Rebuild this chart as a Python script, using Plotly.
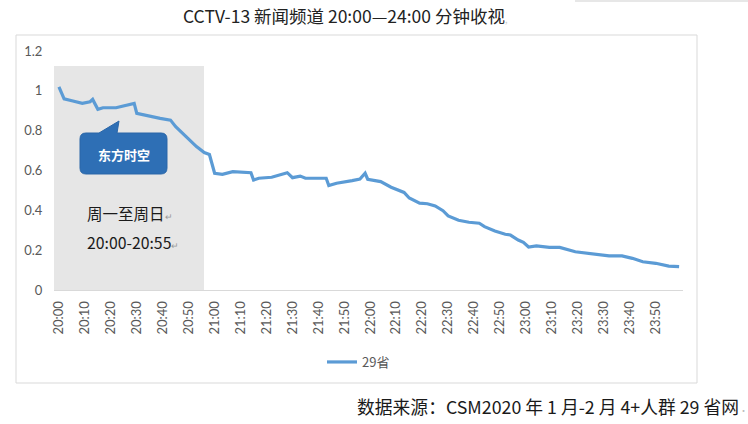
import plotly.graph_objects as go

# ---- data ----
minutes = [0, 2, 5, 9, 12, 13, 15, 17, 22, 27, 29, 30, 34, 39, 43, 45, 49, 53, 56, 58,
           60, 63, 67, 74, 75, 77, 82, 88, 90, 93, 95, 103, 104, 107, 113, 116, 118, 119,
           124, 128, 133, 135, 139, 142, 145, 148, 150, 154, 158, 162, 164, 168, 172, 174,
           177, 179, 181, 184, 189, 193, 199, 207, 212, 217, 221, 225, 230, 235, 239]
values = [1.02, 0.96, 0.95, 0.937, 0.945, 0.957, 0.907, 0.915, 0.915, 0.932, 0.937, 0.887,
          0.875, 0.862, 0.853, 0.82, 0.77, 0.72, 0.69, 0.68,
          0.586, 0.581, 0.594, 0.589, 0.552, 0.561, 0.566, 0.589, 0.564, 0.572, 0.561, 0.561,
          0.524, 0.536, 0.549, 0.557, 0.586, 0.556,
          0.544, 0.516, 0.49, 0.462, 0.436, 0.433, 0.422, 0.398, 0.372, 0.35, 0.34, 0.335,
          0.318, 0.296, 0.28, 0.276,
          0.251, 0.239, 0.216, 0.221, 0.214, 0.214, 0.192, 0.181, 0.171, 0.171, 0.159, 0.142,
          0.134, 0.12, 0.117]
tick_minutes = [0, 10, 20, 30, 40, 50, 60, 70, 80, 90, 100, 110, 120, 130, 140, 150,
                160, 170, 180, 190, 200, 210, 220, 230]
tick_labels = ["20:00", "20:10", "20:20", "20:30", "20:40", "20:50", "21:00", "21:10",
               "21:20", "21:30", "21:40", "21:50", "22:00", "22:10", "22:20", "22:30",
               "22:40", "22:50", "23:00", "23:10", "23:20", "23:30", "23:40", "23:50"]
y_ticks = [0, 0.2, 0.4, 0.6, 0.8, 1, 1.2]
y_tick_labels = ["0", "0.2", "0.4", "0.6", "0.8", "1", "1.2"]
series_name = "29省"
highlight_start, highlight_end, highlight_top = -1.9, 55.9, 1.125

# ---- layout geometry ----
W, H = 748, 424
L, R, T, B = 54, 683, 51, 290


def px(x):
    return (x - L) / (R - L)


def py(y):
    return (B - y) / (B - T)


CJK = "Noto Sans CJK SC"
fig = go.Figure()
fig.add_trace(go.Scatter(x=minutes, y=values, mode="lines", name=series_name,
                         line=dict(color="#5b9bd5", width=3.2)))

shapes = []
# outer chart frame
shapes.append(dict(type="rect", xref="paper", yref="paper", x0=px(16), x1=px(697),
                   y0=py(383), y1=py(35), line=dict(color="#d9d9d9", width=1), layer="below"))
# top-right stray border
shapes.append(dict(type="line", xref="paper", yref="paper", x0=px(575), x1=px(748),
                   y0=py(1), y1=py(1), line=dict(color="#cfcfcf", width=1)))
# shaded program block
shapes.append(dict(type="rect", xref="x", yref="y", x0=highlight_start, x1=highlight_end,
                   y0=0, y1=highlight_top, fillcolor="#e6e6e6", line=dict(width=0),
                   layer="below"))


# callout box with pointer (pixel-based path converted to paper)
def pt(x, y):
    return f"{px(x):.5f},{py(y):.5f}"


x0, x1, y0, y1, r = 80, 167, 133, 174, 6
path = (f"M{pt(x0 + r, y0)} L{pt(99, y0)} L{pt(119, 121)} L{pt(117, y0)} L{pt(x1 - r, y0)} "
        f"Q{pt(x1, y0)} {pt(x1, y0 + r)} L{pt(x1, y1 - r)} Q{pt(x1, y1)} {pt(x1 - r, y1)} "
        f"L{pt(x0 + r, y1)} Q{pt(x0, y1)} {pt(x0, y1 - r)} L{pt(x0, y0 + r)} "
        f"Q{pt(x0, y0)} {pt(x0 + r, y0)} Z")
shapes.append(dict(type="path", xref="paper", yref="paper", path=path,
                   fillcolor="#2e6fb5", line=dict(color="#2a66a8", width=1)))

annotations = [
    dict(text="CCTV-13 新闻频道 20:00—24:00 分钟收视<span style='color:#c8c8c8;font-size:9px'>,</span>",
         x=px(345), y=py(15), xref="paper", yref="paper", showarrow=False,
         font=dict(family=CJK, size=17.5, color="#222222"), xanchor="center", yanchor="middle"),
    dict(text="<b>东方时空</b>", x=px(123.5), y=py(154), xref="paper", yref="paper",
         showarrow=False, font=dict(family=CJK, size=13, color="white"),
         xanchor="center", yanchor="middle"),
    dict(text="周一至周日<span style='color:#9a9a9a;font-size:9px'>↵</span>", x=px(85), y=py(213),
         xref="paper", yref="paper", showarrow=False,
         font=dict(family=CJK, size=15.5, color="#1a1a1a"), xanchor="left", yanchor="middle"),
    dict(text="20:00-20:55<span style='color:#9a9a9a;font-size:9px'>↵</span>", x=px(85), y=py(242),
         xref="paper", yref="paper", showarrow=False,
         font=dict(family=CJK, size=15.8, color="#1a1a1a"), xanchor="left", yanchor="middle"),
    dict(text="数据来源：CSM2020 年 1 月-2 月 4+人群 29 省网<span style='color:#bbbbbb;font-size:9px'>·</span>",
         x=px(355), y=py(406), xref="paper", yref="paper", showarrow=False,
         font=dict(family=CJK, size=17.8, color="#1a1a1a"), xanchor="left", yanchor="middle"),
]

fig.update_layout(
    width=W, height=H,
    margin=dict(l=L, r=W - R, t=T, b=H - B, pad=0),
    paper_bgcolor="white", plot_bgcolor="rgba(0,0,0,0)",
    shapes=shapes, annotations=annotations,
    showlegend=True,
    legend=dict(orientation="h", x=px(322), y=py(347), xanchor="left", yanchor="top",
                font=dict(family=CJK, size=13, color="#595959"),
                bgcolor="rgba(0,0,0,0)"),
    xaxis=dict(range=[highlight_start, 240.5], tickmode="array", tickvals=tick_minutes,
               ticktext=tick_labels, tickangle=-90, showgrid=False, zeroline=False,
               showline=True, linecolor="#d9d9d9", linewidth=1,
               ticks="outside", ticklen=5, tickcolor="rgba(0,0,0,0)",
               tickfont=dict(family="Lato, " + CJK, size=13, color="#595959")),
    yaxis=dict(range=[0, 1.2], tickmode="array", tickvals=y_ticks, ticktext=y_tick_labels,
               showgrid=False, zeroline=False, showline=False,
               ticks="outside", ticklen=8, tickcolor="rgba(0,0,0,0)",
               tickfont=dict(family="Lato, " + CJK, size=13, color="#595959")),
)

fig.write_html("out.html", config={"displayModeBar": False},
               post_script="document.body.style.margin='0';")
